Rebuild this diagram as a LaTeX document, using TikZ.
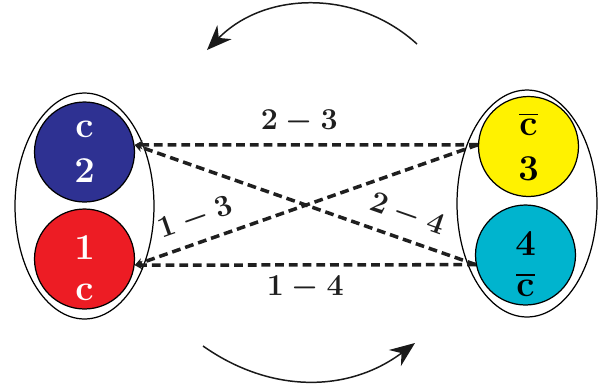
\documentclass[tikz,border=0pt]{standalone}
\usepackage{amsmath}
\usetikzlibrary{arrows.meta,shapes.geometric}
\definecolor{setblue}{HTML}{2E3192}
\definecolor{setred}{HTML}{ED1C24}
\definecolor{setyellow}{HTML}{FFF200}
\definecolor{setcyan}{HTML}{00B4CE}
\tikzset{
  group/.style={ellipse, draw, line width=0.7pt, minimum width=2.78cm, minimum height=4.52cm},
  ball/.style={circle, draw=black, fill=#1, line width=0.7pt, minimum size=2cm, inner sep=0pt},
  balltext/.style={align=center, font=\fontsize{22.5}{25.5}\selectfont\boldmath},
  link/.style={-{Stealth[length=4.5pt,width=5pt]}, dash pattern=on 5pt off 2.8pt, line width=2pt, black!88},
  edgelabel/.style={font=\fontsize{18.5}{20}\selectfont\boldmath, text=black!88, inner sep=2pt},
  turn/.style={-{Stealth[length=0.5cm,width=0.4cm]}, line width=0.85pt, black!90},
}
\begin{document}
\begin{tikzpicture}[x=0.02cm, y=-0.02cm]
\useasboundingbox (0,0) rectangle (599,387);

% the two groups
\node[group] (left) at (84.5,206) {};
\node[group, minimum width=2.8cm, minimum height=4.54cm] (right) at (527,203.5) {};

\node[ball=setblue, balltext, text=white] (n2) at (84.5,152) {$\mathbf{c}$\\$\mathbf{2}$};
\node[ball=setred, balltext, text=white] (n1) at (84.5,259) {\rule{0pt}{0.84cm}$\mathbf{1}$\\[-2.5pt]$\mathbf{c}$};
\node[ball=setyellow, balltext] (n3) at (528.5,146.5) {$\overline{\mathbf{c}}$\\$\mathbf{3}$};
\node[ball=setcyan, balltext] (n4) at (525.5,255) {\rule{0pt}{0.84cm}$\mathbf{4}$\\[-2.5pt]$\overline{\mathbf{c}}$};

% pairs
\draw[link] (n3.178) -- (n2.8) node[edgelabel, pos=0.52, above=0.12cm] {$2-3$};
\draw[link] (n4.191.5) -- (n1.353) node[edgelabel, midway, below=0.12cm] {$1-4$};
\draw[link] (n3.178) -- (n1.353) node[edgelabel, pos=0.8, sloped, above=0.14cm] {$1-3$};
\draw[link] (n4.191.5) -- (n2.8) node[edgelabel, pos=0.225, sloped, above=0.14cm] {$2-4$};

% turning arrows
\coordinate (topA) at (417,44);
\coordinate (topB) at (207,50);
\coordinate (botA) at (203,346);
\coordinate (botB) at (415,343);
\draw[turn] (topA) to[bend right=44] (topB);
\draw[turn] (botA) to[bend right=36] (botB);

\end{tikzpicture}
\end{document}
